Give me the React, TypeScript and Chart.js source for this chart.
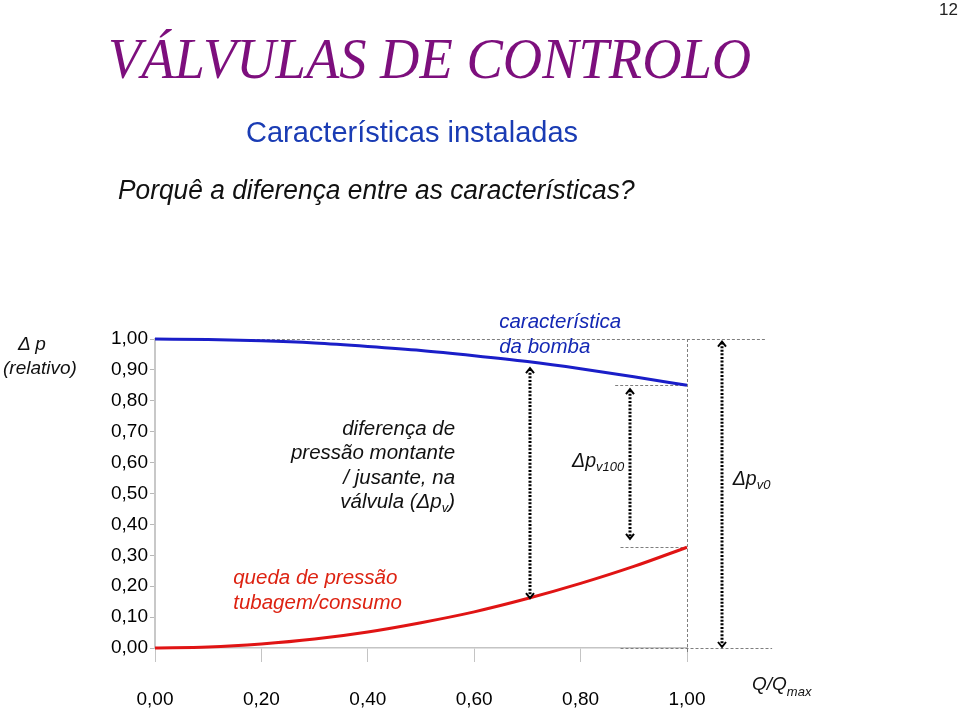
import React, { useEffect, useRef } from "react";
import { Chart, registerables } from "chart.js";

Chart.register(...registerables);

// ---- data ----
const flowRatio = [0, 0.1, 0.2, 0.3, 0.4, 0.5, 0.6, 0.7, 0.8, 0.9, 1.0];
const pumpCharacteristic = [1.0, 0.998, 0.994, 0.987, 0.976, 0.963, 0.946, 0.927, 0.904, 0.878, 0.85];
const pipeLoss = [0.0, 0.003, 0.013, 0.029, 0.052, 0.082, 0.117, 0.16, 0.209, 0.264, 0.326];
const yTickValues = [0, 0.1, 0.2, 0.3, 0.4, 0.5, 0.6, 0.7, 0.8, 0.9, 1.0];
const xTickValues = [0, 0.2, 0.4, 0.6, 0.8, 1.0];

// double-headed dotted arrows (x, top, bottom in data units)
const arrowXs = [0.705, 0.893, 1.066];
const arrowTops = [0.909, 0.841, 0.995];
const arrowBottoms = [0.158, 0.35, 0.0];

// dashed guide lines
const guideYs = [1.0, 0.85, 0.326, 0.0];
const guideStarts = [0.06, 0.865, 0.875, 0.875];
const guideEnds = [1.15, 1.0, 1.0, 1.16];
const guideVertical = { x: 1.0, from: 1.0, to: -0.016 };

const FONT = '"Liberation Sans", Arial, sans-serif';
const fmt = (v: number) => v.toFixed(2).replace(".", ",");

function drawRich(
  ctx: CanvasRenderingContext2D,
  parts: { t: string; sub?: boolean }[],
  x: number,
  y: number,
  size: number,
  subSize: number,
  color: string,
  align: "left" | "right"
) {
  const fMain = `italic ${size}px ${FONT}`;
  const fSub = `italic ${subSize}px ${FONT}`;
  let total = 0;
  for (const p of parts) {
    ctx.font = p.sub ? fSub : fMain;
    total += ctx.measureText(p.t).width;
  }
  let cx = align === "right" ? x - total : x;
  ctx.fillStyle = color;
  ctx.textBaseline = "middle";
  ctx.textAlign = "left";
  for (const p of parts) {
    ctx.font = p.sub ? fSub : fMain;
    ctx.fillText(p.t, cx, p.sub ? y + size * 0.3 : y);
    cx += ctx.measureText(p.t).width;
  }
}

const overlayPlugin = {
  id: "overlay",
  beforeDatasetsDraw(chart: any) {
    const { ctx, scales } = chart;
    const xs = scales.x;
    const ys = scales.y;
    ctx.save();
    ctx.strokeStyle = "#7e7e7e";
    ctx.lineWidth = 1;
    ctx.setLineDash([3, 2]);
    guideYs.forEach((gy, i) => {
      const py = Math.round(ys.getPixelForValue(gy)) + 0.5;
      ctx.beginPath();
      ctx.moveTo(xs.getPixelForValue(guideStarts[i]), py);
      ctx.lineTo(xs.getPixelForValue(guideEnds[i]), py);
      ctx.stroke();
    });
    const vx = Math.round(xs.getPixelForValue(guideVertical.x)) + 0.5;
    ctx.beginPath();
    ctx.moveTo(vx, ys.getPixelForValue(guideVertical.from));
    ctx.lineTo(vx, ys.getPixelForValue(guideVertical.to));
    ctx.stroke();
    ctx.restore();
  },
  afterDatasetsDraw(chart: any) {
    const { ctx, scales } = chart;
    const xs = scales.x;
    const ys = scales.y;
    ctx.save();
    // arrows
    arrowXs.forEach((ax, i) => {
      const px = Math.round(xs.getPixelForValue(ax));
      const top = ys.getPixelForValue(arrowTops[i]);
      const bot = ys.getPixelForValue(arrowBottoms[i]);
      ctx.strokeStyle = "#000";
      ctx.lineWidth = 3;
      ctx.setLineDash([2, 1.6]);
      ctx.beginPath();
      ctx.moveTo(px, top + 2);
      ctx.lineTo(px, bot - 2);
      ctx.stroke();
      ctx.setLineDash([]);
      ctx.lineWidth = 2;
      ctx.beginPath();
      ctx.moveTo(px - 4, top + 6);
      ctx.lineTo(px, top + 1);
      ctx.lineTo(px + 4, top + 6);
      ctx.stroke();
      ctx.beginPath();
      ctx.moveTo(px - 4, bot - 6);
      ctx.lineTo(px, bot - 1);
      ctx.lineTo(px + 4, bot - 6);
      ctx.stroke();
    });
    // annotation labels
    const X = (v: number) => xs.getPixelForValue(v);
    const Y = (v: number) => ys.getPixelForValue(v);
    drawRich(ctx, [{ t: "característica" }], X(0.647), Y(1.055), 20.5, 13, "#1428b4", "left");
    drawRich(ctx, [{ t: "da bomba" }], X(0.647), Y(0.974), 20.5, 13, "#1428b4", "left");
    const diffX = X(0.564);
    drawRich(ctx, [{ t: "diferença de" }], diffX, Y(0.709), 20.5, 13, "#111", "right");
    drawRich(ctx, [{ t: "pressão montante" }], diffX, Y(0.631), 20.5, 13, "#111", "right");
    drawRich(ctx, [{ t: "/ jusante, na" }], diffX, Y(0.55), 20.5, 13, "#111", "right");
    drawRich(ctx, [{ t: "válvula (Δp" }, { t: "v", sub: true }, { t: ")" }], diffX, Y(0.472), 20.5, 13, "#111", "right");
    drawRich(ctx, [{ t: "queda de pressão" }], X(0.147), Y(0.227), 20.5, 13, "#dd2211", "left");
    drawRich(ctx, [{ t: "tubagem/consumo" }], X(0.147), Y(0.146), 20.5, 13, "#dd2211", "left");
    drawRich(ctx, [{ t: "Δp" }, { t: "v100", sub: true }], X(0.784), Y(0.602), 19.5, 13, "#111", "left");
    drawRich(ctx, [{ t: "Δp" }, { t: "v0", sub: true }], X(1.086), Y(0.544), 19.5, 13, "#111", "left");
    ctx.restore();
  },
};

function InstalledChart() {
  const ref = useRef<HTMLCanvasElement | null>(null);
  useEffect(() => {
    if (!ref.current) return;
    const chart = new Chart(ref.current, {
      type: "line",
      data: {
        datasets: [
          {
            label: "característica da bomba",
            data: flowRatio.map((x, i) => ({ x, y: pumpCharacteristic[i] })),
            borderColor: "#1a1ec8",
            borderWidth: 3,
            pointRadius: 0,
            tension: 0.4,
            cubicInterpolationMode: "monotone",
            clip: false as any,
          },
          {
            label: "queda de pressão tubagem/consumo",
            data: flowRatio.map((x, i) => ({ x, y: pipeLoss[i] })),
            borderColor: "#e01414",
            borderWidth: 3,
            pointRadius: 0,
            tension: 0.4,
            cubicInterpolationMode: "monotone",
            clip: false as any,
          },
        ],
      },
      options: {
        responsive: false,
        animation: false,
        devicePixelRatio: 1,
        layout: { padding: { left: 95, right: 273, top: 339, bottom: 0 } },
        plugins: { legend: { display: false }, tooltip: { enabled: false } },
        scales: {
          x: {
            type: "linear",
            min: 0,
            max: 1,
            afterBuildTicks: (s: any) => {
              s.ticks = xTickValues.map((v) => ({ value: v }));
            },
            afterFit: (s: any) => {
              s.height = 64;
            },
            ticks: {
              callback: (v: any) => fmt(Number(v)),
              color: "#000",
              font: { family: FONT, size: 19 },
              padding: 26,
              maxRotation: 0,
            },
            grid: { drawOnChartArea: false, tickLength: 14, color: "#c4c4c4", lineWidth: 1 },
            border: { color: "#c4c4c4", width: 1.5 },
          },
          y: {
            type: "linear",
            min: 0,
            max: 1,
            afterBuildTicks: (s: any) => {
              s.ticks = yTickValues.map((v) => ({ value: v }));
            },
            afterFit: (s: any) => {
              s.width = 60;
            },
            ticks: {
              callback: (v: any) => fmt(Number(v)),
              color: "#000",
              font: { family: FONT, size: 19 },
              padding: 2,
            },
            grid: { drawOnChartArea: false, tickLength: 5, color: "#b8b8b8", lineWidth: 1 },
            border: { color: "#c8c8c8", width: 2 },
          },
        },
      },
      plugins: [overlayPlugin],
    } as any);
    return () => chart.destroy();
  }, []);
  return (
    <canvas
      ref={ref}
      width={960}
      height={712}
      style={{ position: "absolute", left: 0, top: 0, width: 960, height: 712 }}
    />
  );
}

const abs = (o: React.CSSProperties): React.CSSProperties => ({
  position: "absolute",
  whiteSpace: "nowrap",
  lineHeight: 1,
  margin: 0,
  ...o,
});

export default function App() {
  useEffect(() => {
    document.body.style.margin = "0";
  }, []);
  return (
    <div style={{ position: "fixed", left: 0, top: 0, width: 960, height: 712, background: "#fff", overflow: "hidden" }}>
      <InstalledChart />
      <div style={abs({ right: 2, top: 1, fontFamily: FONT, fontSize: 17, color: "#222" })}>12</div>
      <div
        style={abs({
          left: 108,
          top: 30,
          fontFamily: '"Liberation Serif", "DejaVu Serif", serif',
          fontStyle: "italic",
          fontSize: 58,
          color: "#7d0f7d",
          transformOrigin: "left top",
          transform: "scaleX(0.94)",
        })}
      >
        VÁLVULAS DE CONTROLO
      </div>
      <div style={abs({ left: 246, top: 118, fontFamily: FONT, fontSize: 29, color: "#1a3cb4" })}>
        Características instaladas
      </div>
      <div
        style={abs({
          left: 118,
          top: 177,
          fontFamily: FONT,
          fontStyle: "italic",
          fontSize: 27,
          color: "#111",
          transformOrigin: "left top",
          transform: "scaleX(0.975)",
        })}
      >
        Porquê a diferença entre as características?
      </div>
      <div style={abs({ left: 18, top: 334, fontFamily: FONT, fontStyle: "italic", fontSize: 19, color: "#111" })}>
        Δ p
      </div>
      <div style={abs({ left: 3, top: 358, fontFamily: FONT, fontStyle: "italic", fontSize: 19, color: "#111" })}>
        (relativo)
      </div>
      <div style={abs({ left: 752, top: 674, fontFamily: FONT, fontStyle: "italic", fontSize: 19, color: "#111" })}>
        Q/Q<span style={{ fontSize: 13, position: "relative", top: 6 }}>max</span>
      </div>
    </div>
  );
}
